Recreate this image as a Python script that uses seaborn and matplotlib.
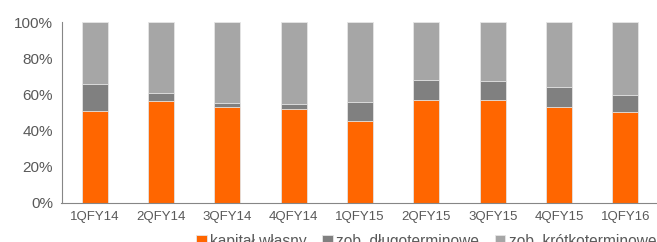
import pandas as pd
import matplotlib.pyplot as plt
import seaborn as sns

quarters = ['1QFY14', '2QFY14', '3QFY14', '4QFY14', '1QFY15',
            '2QFY15', '3QFY15', '4QFY15', '1QFY16']
equity = [51.0, 56.5, 52.9, 51.9, 45.5, 56.9, 56.9, 53.0, 50.1]
long_term = [14.8, 4.5, 2.4, 3.0, 10.3, 11.3, 10.7, 11.1, 9.8]
short_term = [100 - e - l for e, l in zip(equity, long_term)]

labels = ['kapitał własny', 'zob. długoterminowe', 'zob. krótkoterminowe']
colors = ['#FF6600', '#808080', '#A6A6A6']

df = pd.DataFrame({'q': quarters, 'eq': equity, 'lt': long_term, 'st': short_term})
df['eq_lt'] = df['eq'] + df['lt']
df['total'] = df['eq_lt'] + df['st']

sns.set_style('white')
plt.rcParams['font.family'] = ['Liberation Sans', 'DejaVu Sans']
text_col = '#595959'

fig = plt.figure(figsize=(6.57, 2.42), dpi=100)
ax = fig.add_axes([61.5 / 657, 1 - 202.7 / 242, 597 / 657, (202.7 - 22.3) / 242])

# layered bars make the stack: total, then equity+long-term, then equity
for col, c, lab in zip(['total', 'eq_lt', 'eq'], colors[::-1], labels[::-1]):
    sns.barplot(data=df, x='q', y=col, color=c, width=0.39, ax=ax, saturation=1,
                edgecolor='#E6E6E6', linewidth=0.6, label=lab)

ax.set_ylim(0, 100)
ax.set_xlim(-0.5, 8.5)
ax.set_yticks([0, 20, 40, 60, 80, 100])
ax.set_yticklabels([f'{v}%' for v in range(0, 101, 20)], fontsize=11, color=text_col)
ax.set_xticks(range(len(quarters)))
ax.set_xticklabels(quarters, fontsize=9.5, color=text_col)
ax.set_xlabel('')
ax.set_ylabel('')
ax.tick_params(axis='y', length=4, width=0.8, color='#868686', pad=2)
ax.tick_params(axis='x', length=0, pad=6)
for s in ['top', 'right']:
    ax.spines[s].set_visible(False)
for s in ['left', 'bottom']:
    ax.spines[s].set_color('#868686')
    ax.spines[s].set_linewidth(0.8)

handles, labs = ax.get_legend_handles_labels()
if ax.get_legend() is not None:
    ax.get_legend().remove()
order = [labs.index(l) for l in labels]
fig.legend([handles[i] for i in order], labels, loc='upper center',
           bbox_to_anchor=(426 / 657, 1 - 226 / 242), ncol=3, frameon=False,
           fontsize=11.2, labelcolor=text_col, handlelength=0.7, handleheight=0.7,
           handletextpad=0.2, columnspacing=1.0, borderpad=0)

fig.savefig('out.png', dpi=100)
